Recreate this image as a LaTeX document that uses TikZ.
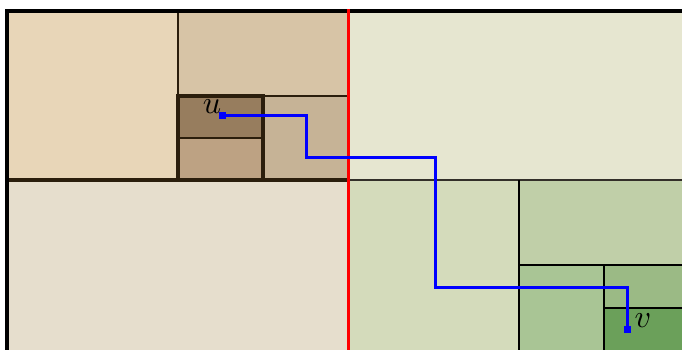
\documentclass[tikz,border=0pt]{standalone}
\begin{document}
\begin{tikzpicture}[x=1pt,y=-1pt,
  cellA/.style={draw=brownline,line width=2.6pt},
  cellB/.style={draw=black,line width=2.8pt},
  pathline/.style={draw=blue,line width=3pt},
  endpt/.style={fill=blue,minimum size=7pt,inner sep=0pt,outer sep=0pt},
  lbl/.style={scale=3.2,inner sep=0pt}]
\definecolor{brownline}{HTML}{2B1E0C}
\definecolor{cA}{HTML}{E8D6B8}
\definecolor{cB}{HTML}{D7C4A6}
\definecolor{cC}{HTML}{C6B396}
\definecolor{cD}{HTML}{977D5E}
\definecolor{cE}{HTML}{BDA283}
\definecolor{cF}{HTML}{E6DECD}
\definecolor{cG}{HTML}{E6E6D0}
\definecolor{cH}{HTML}{D4DBBB}
\definecolor{cI}{HTML}{C0CFA8}
\definecolor{cJ}{HTML}{A9C595}
\definecolor{cK}{HTML}{9BBA85}
\definecolor{cL}{HTML}{6BA05A}
\useasboundingbox (0,0) rectangle (682,350);
\begin{scope}
\clip (0,0) rectangle (682,350);
% fills
\fill[cA] (7,11) rectangle (178,180);
\fill[cB] (178,11) rectangle (348,96);
\fill[cC] (263,96) rectangle (348,180);
\fill[cD] (178,96) rectangle (263,138);
\fill[cE] (178,138) rectangle (263,180);
\fill[cF] (7,180) rectangle (348,352);
\fill[cG] (348,11) rectangle (692,180);
\fill[cH] (348,180) rectangle (519,352);
\fill[cI] (519,180) rectangle (692,265);
\fill[cJ] (519,265) rectangle (604,352);
\fill[cK] (604,265) rectangle (692,308);
\fill[cL] (604,308) rectangle (692,352);
% left half lines
\draw[cellA] (178,11) -- (178,180);
\draw[cellA] (178,96) -- (348,96);
\draw[cellA,line width=3.2pt] (7,180) -- (348,180);
\draw[cellA,line width=3.4pt] (178,96) rectangle (263,180);
\draw[cellA] (178,138) -- (263,138);
% right half lines
\draw[cellB,draw=black!85!olive] (348,180) -- (692,180);
\draw[cellB] (519,180) -- (519,352);
\draw[cellB] (519,265) -- (692,265);
\draw[cellB] (604,265) -- (604,352);
\draw[cellB] (604,308) -- (692,308);
% outer border
\draw[black,line width=4pt] (7,354) -- (7,11) -- (692,11);
% separator
\draw[red,line width=3pt] (348,9.5) -- (348,354);
% path
\coordinate (u) at (222,116);
\coordinate (v) at (627,329);
\coordinate (a) at (306,116);
\coordinate (b) at (306,157);
\coordinate (c) at (435,157);
\coordinate (d) at (435,287);
\coordinate (e) at (627,287);
\draw[pathline] (u) -- (a) -- (b) -- (c) -- (d) -- (e) -- (v);
\node[endpt] (un) at (u) {};
\node[endpt] (vn) at (v) {};
\node[lbl] (ul) at (212,107) {$u$};
\node[lbl] (vl) at (643,321) {$v$};
\end{scope}
\end{tikzpicture}
\end{document}
